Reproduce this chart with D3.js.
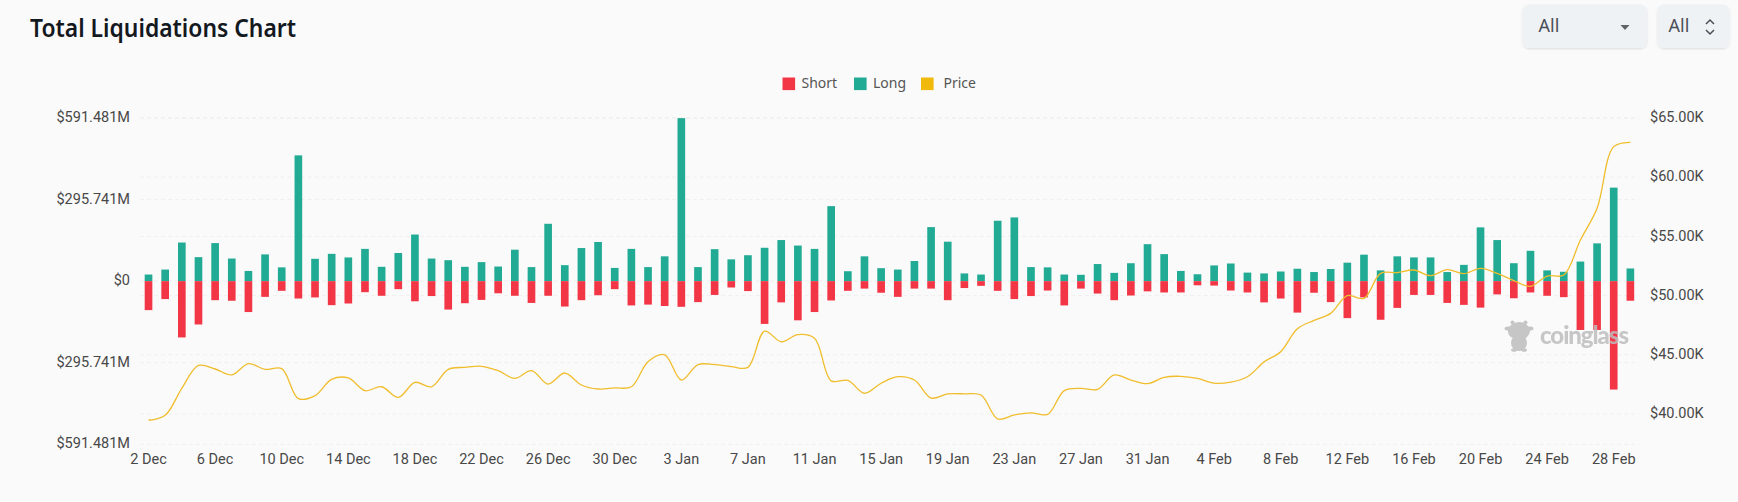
<!DOCTYPE html>
<html>
<head>
<meta charset="utf-8">
<title>Total Liquidations Chart</title>
<script src="https://cdn.jsdelivr.net/npm/d3@7"></script>
<style>
  html, body { margin: 0; padding: 0; background: #fafafa; overflow: hidden; }
  svg { display: block; }
  .tick-label { font-family: Roboto, sans-serif; font-size: 14.5px; fill: #484848; }
  .ui { font-family: "Noto Sans", sans-serif; }
</style>
</head>
<body>
<div id="graph"></div>
<script>
var days = [
  "2 Dec","3 Dec","4 Dec","5 Dec","6 Dec","7 Dec","8 Dec","9 Dec","10 Dec","11 Dec","12 Dec","13 Dec","14 Dec","15 Dec","16 Dec",
  "17 Dec","18 Dec","19 Dec","20 Dec","21 Dec","22 Dec","23 Dec","24 Dec","25 Dec","26 Dec","27 Dec","28 Dec","29 Dec","30 Dec","31 Dec",
  "1 Jan","2 Jan","3 Jan","4 Jan","5 Jan","6 Jan","7 Jan","8 Jan","9 Jan","10 Jan","11 Jan","12 Jan","13 Jan","14 Jan","15 Jan","16 Jan",
  "17 Jan","18 Jan","19 Jan","20 Jan","21 Jan","22 Jan","23 Jan","24 Jan","25 Jan","26 Jan","27 Jan","28 Jan","29 Jan","30 Jan","31 Jan",
  "1 Feb","2 Feb","3 Feb","4 Feb","5 Feb","6 Feb","7 Feb","8 Feb","9 Feb","10 Feb","11 Feb","12 Feb","13 Feb","14 Feb","15 Feb","16 Feb",
  "17 Feb","18 Feb","19 Feb","20 Feb","21 Feb","22 Feb","23 Feb","24 Feb","25 Feb","26 Feb","27 Feb","28 Feb","29 Feb"
];

// $M
var longs = [
  24,42,140,87,138,82,37,97,50,456,81,99,86,117,52,
  102,169,82,76,52,69,53,114,51,208,58,120,142,48,117,
  51,90,591,51,116,79,94,121,149,129,117,272,36,90,47,42,
  73,196,143,28,24,219,231,51,50,24,23,62,30,65,134,
  98,37,25,57,64,31,28,35,45,33,44,67,96,39,90,86,
  86,33,59,195,149,65,110,39,34,71,137,339,46
];
var shorts = [
  105,65,204,157,69,71,112,57,35,63,59,87,81,40,53,
  29,73,54,103,80,68,44,53,79,53,92,69,51,29,88,
  85,90,93,76,50,23,36,155,77,142,112,70,35,27,42,57,
  27,27,69,25,17,35,65,54,34,88,27,45,69,52,37,
  41,41,15,16,34,41,77,63,114,42,76,134,59,140,97,50,
  50,79,86,96,48,62,41,53,58,177,177,393,71
];
// $K
var price = [
  39.47,39.9,42.17,44.1,43.8,43.3,44.25,43.77,43.83,41.3,41.55,42.93,43.04,41.97,42.3,
  41.4,42.67,42.3,43.77,43.94,44.03,43.66,43.0,43.66,42.53,43.46,42.45,42.11,42.2,42.3,
  44.42,45.0,42.87,44.17,44.17,44.0,43.94,47.0,46.1,46.7,46.4,42.8,42.84,41.75,42.6,43.15,
  42.87,41.35,41.7,41.7,41.6,39.58,39.92,40.1,39.97,41.97,42.17,42.08,43.3,42.87,42.56,
  43.1,43.18,43.0,42.6,42.7,43.15,44.4,45.26,47.2,47.9,48.5,50.0,49.77,51.88,51.94,52.16,
  51.68,52.2,51.85,52.3,51.88,51.26,50.78,51.65,51.74,54.7,57.37,62.58,62.94
];

var leftTicks = [591.481, 295.741, 0, -295.741, -591.481];
var rightTicks = [65, 60, 55, 50, 45, 40];
var legendItems = ["Short", "Long", "Price"];

var RED = "#f23645", GREEN = "#22ab94", GOLD = "#f0bd2c";

var svg = d3.select("#graph").append("svg")
  .attr("width", 1738)
  .attr("height", 502);

var x = d3.scaleBand().domain(days).range([140.2, 1638.7]).paddingInner(0.54).paddingOuter(0.27);
var yL = d3.scaleLinear().domain([-591.481, 591.481]).range([444.3, 118]);
var yR = d3.scaleLinear().domain([37.44, 65]).range([444.3, 118]);

// grid, both axes have their own lines
function grid(scale, ticks) {
  svg.append("g").selectAll("line")
    .data(ticks)
    .enter()
    .append("line")
    .attr("x1", 140)
    .attr("x2", 1639)
    .attr("y1", function (d) { return scale(d); })
    .attr("y2", function (d) { return scale(d); })
    .attr("stroke", "#efefef")
    .attr("stroke-dasharray", "4 3");
}
grid(yL, leftTicks);
grid(yR, rightTicks);

svg.append("g").selectAll("rect")
  .data(days)
  .enter()
  .append("rect")
  .attr("fill", GREEN)
  .attr("x", function (d) { return x(d); })
  .attr("width", x.bandwidth())
  .attr("y", function (d, i) { return yL(longs[i]); })
  .attr("height", function (d, i) { return yL(0) - yL(longs[i]); });

svg.append("g").selectAll("rect")
  .data(days)
  .enter()
  .append("rect")
  .attr("fill", RED)
  .attr("x", function (d) { return x(d); })
  .attr("width", x.bandwidth())
  .attr("y", yL(0))
  .attr("height", function (d, i) { return yL(-shorts[i]) - yL(0); });

// watermark
var mark = svg.append("g").attr("fill", "#bdbdbd").attr("opacity", 0.85);
mark.append("ellipse").attr("cx", 1519).attr("cy", 331).attr("rx", 11).attr("ry", 9);
mark.append("ellipse").attr("cx", 1508).attr("cy", 328.5).attr("rx", 3.5).attr("ry", 2);
mark.append("ellipse").attr("cx", 1530).attr("cy", 328.5).attr("rx", 3.5).attr("ry", 2);
mark.append("ellipse").attr("cx", 1512.5).attr("cy", 322.5).attr("rx", 2).attr("ry", 2);
mark.append("ellipse").attr("cx", 1525.5).attr("cy", 322.5).attr("rx", 2).attr("ry", 2);
mark.append("ellipse").attr("cx", 1519).attr("cy", 343).attr("rx", 8).attr("ry", 8);
mark.append("ellipse").attr("cx", 1514).attr("cy", 350).attr("rx", 3).attr("ry", 1.8);
mark.append("ellipse").attr("cx", 1524).attr("cy", 350).attr("rx", 3).attr("ry", 1.8);
mark.append("text")
  .attr("x", 1540)
  .attr("y", 343.5)
  .attr("font-family", "Lato, sans-serif")
  .attr("font-weight", 900)
  .attr("font-size", 24)
  .attr("textLength", 89)
  .attr("lengthAdjust", "spacing")
  .text("coinglass");

var line = d3.line()
  .x(function (d, i) { return x(days[i]) + x.bandwidth() / 2; })
  .y(function (d) { return yR(d); })
  .curve(d3.curveCatmullRom.alpha(0.5));

svg.append("path")
  .datum(price)
  .attr("d", line)
  .attr("fill", "none")
  .attr("stroke", GOLD)
  .attr("stroke-width", 1.3);

// axes
function money(d) {
  return d === 0 ? "$0" : "$" + Math.abs(d).toFixed(3) + "M";
}
var axL = svg.append("g").attr("transform", "translate(130,-1)")
  .call(d3.axisLeft(yL).tickValues(leftTicks).tickFormat(money).tickSize(0).tickPadding(0));
var axR = svg.append("g").attr("transform", "translate(1650,-1)")
  .call(d3.axisRight(yR).tickValues(rightTicks).tickFormat(function (d) { return "$" + d.toFixed(2) + "K"; }).tickSize(0).tickPadding(0));
var axB = svg.append("g").attr("transform", "translate(0,449)")
  .call(d3.axisBottom(x).tickValues(days.filter(function (d, i) { return i % 4 === 0; })).tickSize(0).tickPadding(5));

[axL, axR, axB].forEach(function (a) {
  a.select(".domain").remove();
  a.selectAll("text").attr("class", "tick-label");
  a.attr("font-family", null).attr("font-size", null);
});

// title
svg.append("text")
  .attr("class", "ui")
  .attr("x", 30)
  .attr("y", 37)
  .attr("font-size", 24.5)
  .attr("font-weight", 600)
  .attr("fill", "#14181f")
  .attr("textLength", 266)
  .attr("lengthAdjust", "spacingAndGlyphs")
  .text("Total Liquidations Chart");

// legend
var legendX = [782.5, 854, 921];
var legendTextX = [801.5, 873, 943.5];
var legendColors = [RED, GREEN, "#f0b90b"];
var lg = svg.append("g").selectAll("g")
  .data(legendItems)
  .enter()
  .append("g");
lg.append("rect")
  .attr("x", function (d, i) { return legendX[i]; })
  .attr("y", 77.5)
  .attr("width", 12.6)
  .attr("height", 12.6)
  .attr("fill", function (d, i) { return legendColors[i]; });
lg.append("text")
  .attr("class", "ui")
  .attr("x", function (d, i) { return legendTextX[i]; })
  .attr("y", 88)
  .attr("font-size", 14)
  .attr("fill", "#555")
  .text(function (d) { return d; });

// dropdowns at the top right
var defs = svg.append("defs");
defs.append("filter").attr("id", "soft")
  .attr("x", "-10%").attr("y", "-10%").attr("width", "120%").attr("height", "125%")
  .append("feDropShadow")
  .attr("dx", 0).attr("dy", 1).attr("stdDeviation", 1)
  .attr("flood-color", "#000").attr("flood-opacity", 0.12);

function dropdown(left, width, textX) {
  svg.append("rect")
    .attr("x", left).attr("y", 4.5)
    .attr("width", width).attr("height", 43.5)
    .attr("rx", 7)
    .attr("fill", "#eff2f5")
    .attr("filter", "url(#soft)");
  svg.append("text")
    .attr("class", "ui")
    .attr("x", textX).attr("y", 32)
    .attr("font-size", 18)
    .attr("fill", "#4a4f57")
    .text("All");
}
dropdown(1522.5, 124.5, 1538.5);
dropdown(1657.5, 72, 1668.5);
svg.append("path").attr("d", "M1620.5 25 L1629.5 25 L1625 30 Z").attr("fill", "#5f6368");
svg.append("path").attr("d", "M1706 24 L1710 20 L1714 24 M1706 30 L1710 34 L1714 30")
  .attr("fill", "none").attr("stroke", "#4a4f57").attr("stroke-width", 1.5);
</script>
</body>
</html>
